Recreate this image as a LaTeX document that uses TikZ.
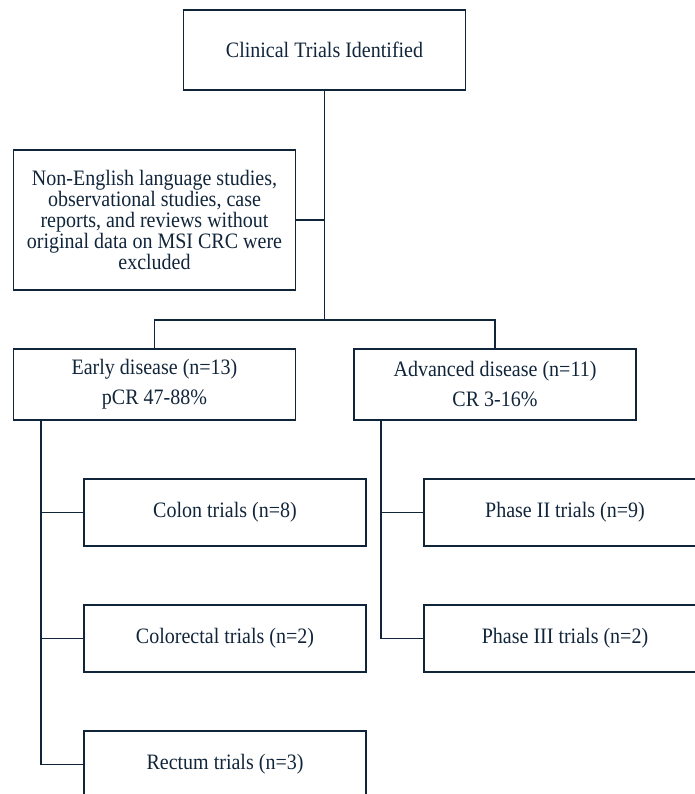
\documentclass[tikz,border=0pt]{standalone}
\usepackage{fontspec}
\setmainfont{Liberation Serif}[FakeStretch=0.91]
\usepackage{tikz}
\usetikzlibrary{positioning}
\definecolor{navy}{RGB}{17,37,58}

\begin{document}
\begin{tikzpicture}[x=1pt,y=-1pt,line width=1.8pt,draw=navy,
    text=navy,font=\fontsize{22}{21}\selectfont,
    box/.style={rectangle,draw,inner sep=0pt,align=center,minimum width=282pt,minimum height=67pt}]

  \clip (0,0) rectangle (695,794);

  \node[box,minimum height=80pt] (ident) at (324.5,50) {Clinical Trials Identified};
  \node[box,minimum height=140pt] (excl) at (154.5,220) {Non-English language studies,\\observational studies, case\\reports, and reviews without\\original data on MSI CRC were\\excluded};
  \node[box,minimum height=71pt] (early) at (154.5,384.5) {Early disease (n=13)\\[9pt]pCR 47-88\%};
  \node[box,minimum height=71pt] (adv) at (495,384.5) {Advanced disease (n=11)\\[9pt]CR 3-16\%};

  \node[box] (colon) at (225,512.5) {Colon trials (n=8)};
  \node[box] (colorectal) at (225,638.5) {Colorectal trials (n=2)};
  \node[box] (rectum) at (225,764.5) {Rectum trials (n=3)};
  \node[box] (phase2) at (565,512.5) {Phase II trials (n=9)};
  \node[box] (phase3) at (565,638.5) {Phase III trials (n=2)};

  \coordinate (split) at (324.5,320);

  \draw (ident) -- (split);
  \draw (excl.east) -- (excl.east -| split);
  \draw (early.north) |- (split) -| (adv.north);

  \foreach \n in {colon,colorectal,rectum}
    \draw ([xshift=28pt]early.south west) |- (\n.west);
  \foreach \n in {phase2,phase3}
    \draw ([xshift=28pt]adv.south west) |- (\n.west);

\end{tikzpicture}
\end{document}
